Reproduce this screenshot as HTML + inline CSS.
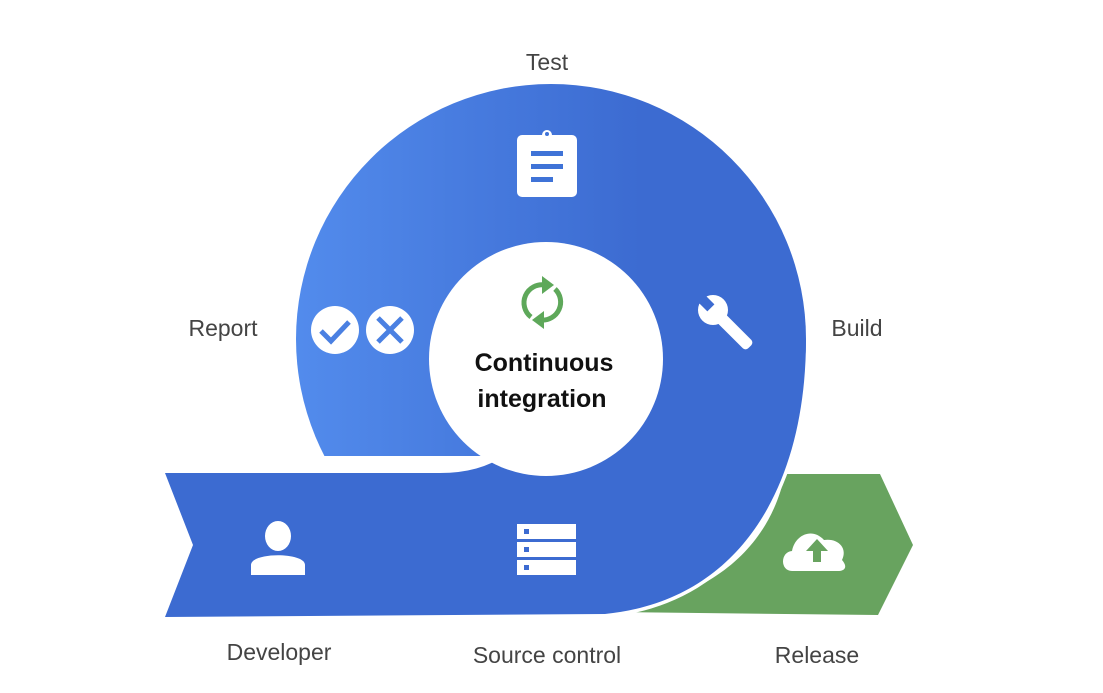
<!DOCTYPE html>
<html><head><meta charset="utf-8"><style>
html,body{margin:0;padding:0;background:#fff;}
svg{display:block;}
text{font-family:"Liberation Sans",sans-serif;}
</style></head><body>
<svg width="1103" height="693" viewBox="0 0 1103 693" xmlns="http://www.w3.org/2000/svg">
<defs>
<linearGradient id="g" x1="300" y1="0" x2="640" y2="0" gradientUnits="userSpaceOnUse">
<stop offset="0" stop-color="#528bec"/><stop offset="1" stop-color="#3c6bd1"/>
</linearGradient>
<clipPath id="top"><rect x="0" y="0" width="1103" height="456"/></clipPath>
</defs>
<path d="M785,474 L880,474 L913,545 L878,615 L612,612 C715,598 770,545 785,474 Z" fill="#68a35f"/>
<path d="M806,339 C806,480 745,600 605,614" fill="none" stroke="#fff" stroke-width="7"/>
<circle cx="551" cy="339" r="255" fill="url(#g)" clip-path="url(#top)"/>
<path d="M165,473 L440,473 Q480,473 505,455 L505,339 L806,339 C806,480 745,600 605,614 L165,617 L193,545 Z" fill="#3c6bd1"/>
<circle cx="546" cy="359" r="117" fill="#fff"/>
<rect x="517" y="135" width="60" height="62" rx="5" fill="#fff"/>
<circle cx="547" cy="135" r="5" fill="#fff"/>
<circle cx="547" cy="134" r="2" fill="#3f73d7"/>
<rect x="531" y="151" width="32" height="5" fill="#3f73d7"/>
<rect x="531" y="164" width="32" height="5" fill="#3f73d7"/>
<rect x="531" y="177" width="22" height="5" fill="#3f73d7"/>
<circle cx="335" cy="330" r="24" fill="#fff"/>
<path d="M321,331 L331,341 L349,322" stroke="#4a80e2" stroke-width="5" fill="none"/>
<circle cx="390" cy="330" r="24" fill="#fff"/>
<path d="M378,318 L402,342 M402,318 L378,342" stroke="#4a80e2" stroke-width="5" fill="none"/>
<g transform="translate(713,310) rotate(-45)">
<rect x="-6" y="0" width="12" height="52" rx="4" fill="#fff"/>
<circle cx="0" cy="0" r="15" fill="#fff"/>
<rect x="-5" y="-17" width="10" height="14" fill="#3c6bd1"/>
</g>
<g fill="none" stroke="#5ea85a" stroke-width="5">
<path d="M531,317 A18,18 0 0 1 545,285"/>
<path d="M555,289 A18,18 0 0 1 541,320"/>
</g>
<path d="M542,276 L554,285 L542,294 Z" fill="#5ea85a"/>
<path d="M544,311 L532,320 L544,329 Z" fill="#5ea85a"/>
<ellipse cx="278" cy="536" rx="13" ry="15" fill="#fff"/>
<path d="M251,575 L251,565 C251,552 305,552 305,565 L305,575 Z" fill="#fff"/>
<g fill="#fff">
<rect x="517" y="524" width="59" height="15"/>
<rect x="517" y="542" width="59" height="15"/>
<rect x="517" y="560" width="59" height="15"/>
</g>
<g fill="#3c6bd1">
<rect x="524" y="529" width="5" height="5"/><rect x="524" y="547" width="5" height="5"/><rect x="524" y="565" width="5" height="5"/>
</g>
<path d="M792,571 C780,571 780,552 792,551 C795,535 812,527 824,540 C838,538 848,548 842,560 C848,567 845,571 838,571 Z" fill="#fff"/>
<path d="M817,539 L828,551 L821,551 L821,562 L813,562 L813,551 L806,551 Z" fill="#68a35f"/>
<g font-size="23" fill="#444" text-anchor="middle">
<text x="547" y="70">Test</text>
<text x="223" y="336">Report</text>
<text x="857" y="336">Build</text>
<text x="279" y="660">Developer</text>
<text x="547" y="663">Source control</text>
<text x="817" y="663">Release</text>
</g>
<g font-size="25" fill="#111" text-anchor="middle" font-weight="bold">
<text x="544" y="371">Continuous</text>
<text x="542" y="407">integration</text>
</g>
</svg>
</body></html>
